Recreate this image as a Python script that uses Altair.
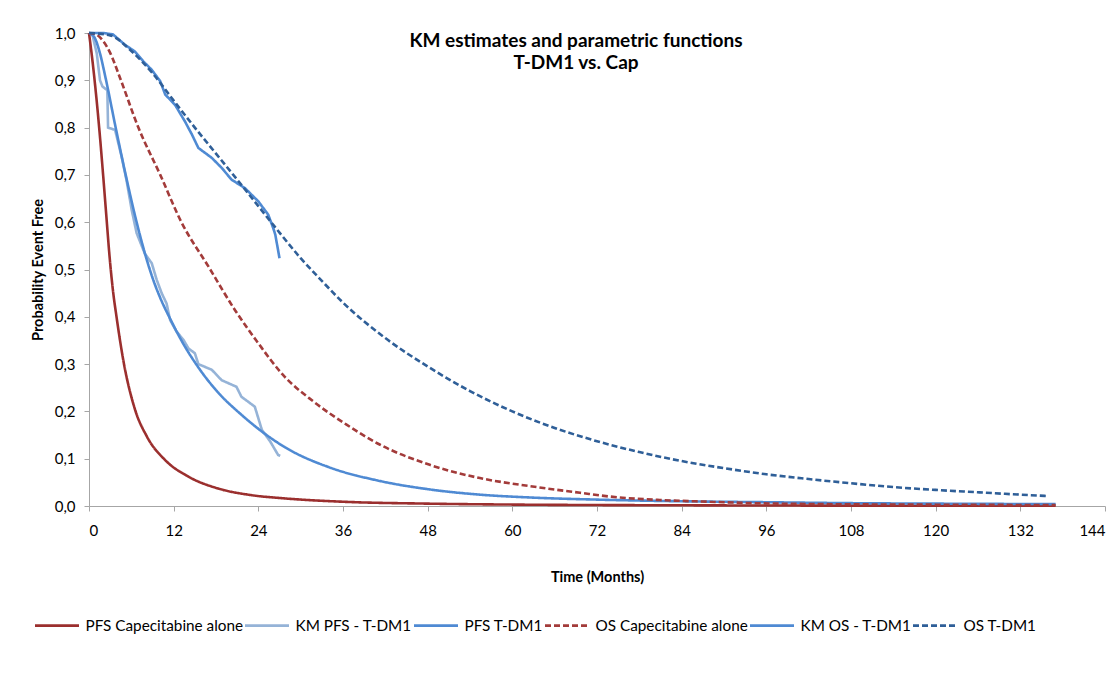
import altair as alt
import pandas as pd

# ---- data ----
SERIES = ["PFS Capecitabine alone", "KM PFS - T-DM1", "PFS T-DM1",
          "OS Capecitabine alone", "KM OS - T-DM1", "OS T-DM1"]
COLORS = ["#9B2F2E", "#95B3D7", "#4F8AD3", "#A33B3A", "#4F8AD3", "#2F5F98"]
DASHES = [[1, 0], [1, 0], [1, 0], [6, 3], [1, 0], [6, 3]]
KM_SERIES = ["KM PFS - T-DM1", "KM OS - T-DM1"]

pfs_cap_t = [0, 0.5, 1, 1.5, 2, 2.5, 2.9, 3.4, 3.9, 4.9, 6.5, 8.2, 10.8, 14.1, 18.3,
             23, 27.8, 36, 48, 60, 72, 84, 96, 108, 120, 137]
pfs_cap_s = [1.0, 0.94, 0.87, 0.79, 0.70, 0.605, 0.53, 0.455, 0.40, 0.305, 0.205, 0.147,
             0.097, 0.062, 0.037, 0.023, 0.016, 0.009, 0.005, 0.003, 0.002, 0.0015,
             0.001, 0.0008, 0.0006, 0.0005]

km_pfs_t = [0, 0.5, 1.1, 1.56, 1.9, 2.6, 2.7, 3.7, 4.6, 5.3, 6.05, 6.75, 7.9, 8.9, 9.6,
            10.3, 11.0, 11.5, 12.4, 13.4, 14.1, 15.0, 15.5, 17.4, 18.8, 20.9, 21.6,
            23.5, 24.5, 25.7, 26.8, 27.1]
km_pfs_s = [1.0, 0.995, 0.957, 0.90, 0.887, 0.879, 0.80, 0.795, 0.74, 0.69, 0.626,
            0.577, 0.534, 0.513, 0.478, 0.45, 0.428, 0.393, 0.369, 0.351, 0.333, 0.323,
            0.30, 0.288, 0.266, 0.252, 0.231, 0.21, 0.161, 0.136, 0.108, 0.106]

pfs_tdm1_t = [0, 0.8, 1.5, 2.35, 3.78, 5.2, 6.75, 8.3, 9.3, 10.1, 11.7, 13.1, 15.5, 18.3,
              21.6, 24.9, 27.8, 34.2, 41.2, 48.3, 55.4, 62.5, 72, 84, 96, 108, 120, 137]
pfs_tdm1_s = [1.0, 0.99, 0.96, 0.905, 0.80, 0.70, 0.60, 0.515, 0.47, 0.44, 0.39,
              0.35, 0.293, 0.240, 0.193, 0.153, 0.124, 0.081, 0.053, 0.035, 0.024,
              0.018, 0.0135, 0.010, 0.008, 0.006, 0.005, 0.004]

os_cap_t = [0, 1, 2, 3, 4.4, 7.0, 10.1, 13.1, 16.9, 20.7, 24.0, 27.5, 31.8, 36.5,
            41.2, 48.3, 55.4, 62.5, 69.6, 73.8, 80.9, 88, 95.1, 109, 120, 137]
os_cap_s = [1.0, 0.997, 0.983, 0.958, 0.905, 0.80, 0.70, 0.60, 0.507, 0.414, 0.344,
            0.277, 0.221, 0.172, 0.13, 0.087, 0.059, 0.042, 0.028, 0.020, 0.0127,
            0.009, 0.0057, 0.0035, 0.0028, 0.002]

km_os_t = [0, 2.0, 3.4, 5.1, 6.5, 7.7, 8.9, 10.1, 10.8, 12.2, 13.6, 14.6, 15.5, 17.4,
           18.8, 20.2, 22.1, 24.0, 25.4, 26.1, 26.4, 27.0]
km_os_s = [1.0, 1.0, 0.997, 0.975, 0.961, 0.94, 0.922, 0.898, 0.87, 0.848, 0.813, 0.785,
           0.757, 0.736, 0.715, 0.69, 0.672, 0.644, 0.616, 0.588, 0.574, 0.524]

os_tdm1_t = [0, 3, 6, 9, 12, 15, 18, 21, 24, 27, 30, 33, 36, 42, 48, 54, 60, 66, 72, 78,
             84, 90, 96, 102, 108, 114, 120, 126, 132, 136]
os_tdm1_s = [1.0, 0.995, 0.962, 0.915, 0.857, 0.800, 0.745, 0.690, 0.634, 0.578, 0.524,
             0.476, 0.430, 0.355, 0.295, 0.243, 0.200, 0.165, 0.137, 0.114, 0.095,
             0.080, 0.067, 0.057, 0.048, 0.040, 0.034, 0.029, 0.024, 0.021]

X_TICKS = list(range(0, 145, 12))
Y_TICKS = [i / 10 for i in range(0, 11)]

pairs = [(pfs_cap_t, pfs_cap_s), (km_pfs_t, km_pfs_s), (pfs_tdm1_t, pfs_tdm1_s),
         (os_cap_t, os_cap_s), (km_os_t, km_os_s), (os_tdm1_t, os_tdm1_s)]
rows = []
for name, (ts, ss) in zip(SERIES, pairs):
    for i, (t, s) in enumerate(zip(ts, ss)):
        rows.append({"series": name, "t": t, "S": s, "i": i,
                     "km": name in KM_SERIES})
df = pd.DataFrame(rows)

FONT = "Lato"

legend = alt.Legend(title=None, orient="none", legendX=-55.5, legendY=569,
                    direction="horizontal", columns=6, symbolType="stroke",
                    symbolSize=1936, symbolStrokeWidth=2.6, labelOffset=5,
                    columnPadding=-4, labelFontSize=15.3, labelFont=FONT,
                    labelColor="#000000", labelLimit=400)

enc = dict(
    x=alt.X("t:Q", scale=alt.Scale(domain=[0, 144], nice=False),
            axis=alt.Axis(values=X_TICKS, title="Time (Months)", grid=False,
                          labelPadding=12, titlePadding=32)),
    y=alt.Y("S:Q", scale=alt.Scale(domain=[0, 1], nice=False),
            axis=alt.Axis(values=Y_TICKS, title="Probability Event Free", grid=False,
                          labelExpr="replace(format(datum.value, '.1f'), '.', ',')",
                          labelPadding=9, titlePadding=9)),
    color=alt.Color("series:N", scale=alt.Scale(domain=SERIES, range=COLORS),
                    legend=legend),
    strokeDash=alt.StrokeDash("series:N", scale=alt.Scale(domain=SERIES, range=DASHES),
                              legend=legend),
    order=alt.Order("i:Q"),
)

base = alt.Chart(df)
param_lines = base.transform_filter("!datum.km").mark_line(
    strokeWidth=2.6, interpolate="monotone").encode(**enc)
km_lines = base.transform_filter("datum.km").mark_line(
    strokeWidth=2.6, interpolate="linear").encode(**enc)

chart = alt.layer(km_lines, param_lines).properties(
    width=1016, height=473,
    title=alt.TitleParams(
        text=["KM estimates and parametric functions", "T-DM1 vs. Cap"],
        font=FONT, fontSize=19, fontWeight="bold", color="#000000",
        anchor="middle", dx=-21, offset=-46.5, lineHeight=22,
    ),
    autosize=alt.AutoSizeParams(type="none"),
    padding={"left": 81, "top": 25, "right": 2, "bottom": 162},
    background="white",
).configure_axis(
    labelFont=FONT, labelFontSize=15, labelColor="#000000",
    titleFont=FONT, titleFontSize=14.5, titleFontWeight="bold", titleColor="#000000",
    domainColor="#A6A6A6", tickColor="#A6A6A6", tickSize=5, grid=False,
).configure_view(stroke=None)

chart.save("out.html", embed_options={"renderer": "svg", "actions": False})
